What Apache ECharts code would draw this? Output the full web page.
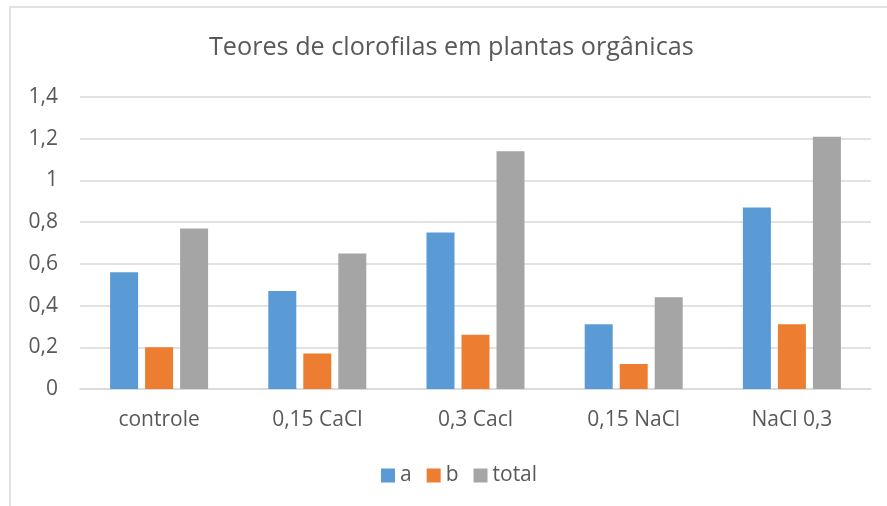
<!DOCTYPE html>
<html lang="pt">
<head>
    <meta charset="UTF-8">
    <title>Teores de clorofilas</title>
    <script src="https://cdn.jsdelivr.net/npm/echarts@6/dist/echarts.min.js"></script>
    <style>
        html, body { margin: 0; padding: 0; background: #fff; }
        #chart { width: 887px; height: 506px; }
    </style>
</head>
<body>
<div id="chart"></div>
<script>
    var categorias = ['controle', '0,15 CaCl', '0,3 Cacl', '0,15 NaCl', 'NaCl 0,3'];
    var clorofilaA = [0.56, 0.47, 0.75, 0.31, 0.87];
    var clorofilaB = [0.20, 0.17, 0.26, 0.12, 0.31];
    var clorofilaTotal = [0.77, 0.65, 1.14, 0.44, 1.21];

    var fonte = 'Open Sans';
    var chart = echarts.init(document.getElementById('chart'));

    function barra(nome, dados, cor) {
        return {
            name: nome,
            type: 'bar',
            data: dados,
            barWidth: 28,
            barGap: '25%',
            itemStyle: { color: cor },
            emphasis: { disabled: true }
        };
    }

    var option = {
        backgroundColor: '#fff',
        animation: false,
        graphic: [{
            type: 'rect',
            shape: { x: 10, y: 7, width: 900, height: 520 },
            style: { fill: 'none', stroke: '#d9d9d9', lineWidth: 1.5 },
            silent: true
        }],
        title: {
            text: 'Teores de clorofilas em plantas orgânicas',
            left: 204,
            top: 30,
            textStyle: { fontFamily: fonte, fontSize: 25.2, fontWeight: 'normal', color: '#595959' }
        },
        legend: {
            data: ['a', 'b', 'total'],
            bottom: 15,
            left: 376,
            icon: 'rect',
            itemWidth: 14,
            itemHeight: 14,
            itemGap: 15,
            textStyle: { fontFamily: fonte, fontSize: 21, color: '#595959' }
        },
        grid: { left: 80, right: 16, top: 97, bottom: 117 },
        xAxis: {
            type: 'category',
            data: categorias,
            axisLine: { lineStyle: { color: '#d9d9d9', width: 1.5 } },
            axisTick: { show: false },
            axisLabel: { fontFamily: fonte, fontSize: 21, color: '#595959', margin: 21 }
        },
        yAxis: {
            type: 'value',
            min: 0,
            max: 1.4,
            interval: 0.2,
            axisLine: { show: false },
            axisTick: { show: false },
            splitLine: { lineStyle: { color: '#d9d9d9', width: 1.5 } },
            axisLabel: {
                fontFamily: fonte, fontSize: 21, color: '#595959', margin: 22,
                formatter: function (v) { return String(+v.toFixed(1)).replace('.', ','); }
            }
        },
        series: [
            barra('a', clorofilaA, '#5B9BD5'),
            barra('b', clorofilaB, '#ED7D31'),
            barra('total', clorofilaTotal, '#A5A5A5')
        ]
    };
    chart.setOption(option);
</script>
</body>
</html>
